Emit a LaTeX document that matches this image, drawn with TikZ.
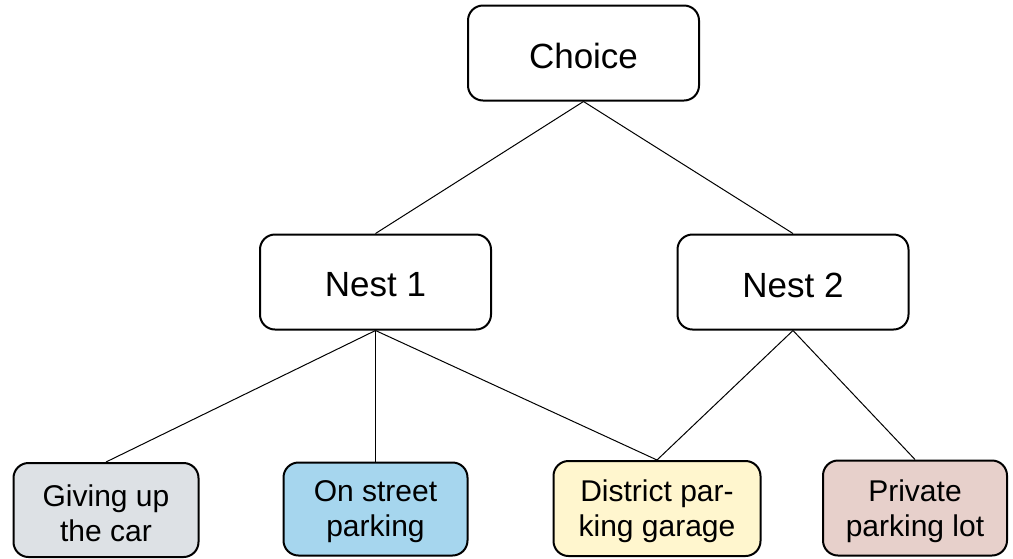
\documentclass[tikz,border=0pt]{standalone}
\usepackage{fontspec}
\setmainfont{Liberation Sans}
\definecolor{cgray}{RGB}{221,225,229}
\definecolor{cblue}{RGB}{166,214,238}
\definecolor{cyellow}{RGB}{255,246,206}
\definecolor{cpink}{RGB}{231,208,203}
\begin{document}
\begin{tikzpicture}[x=1pt,y=-1pt,
  box/.style={draw=black,line width=2pt,rounded corners=15pt,inner sep=0pt},
  topbox/.style={box,minimum width=231pt,minimum height=95pt},
  toptext/.style={label={[font=\fontsize{35}{40}\selectfont,text=black,yshift=-3pt]center:#1}},
  leaftext/.style={label={[font=\fontsize{30}{35}\selectfont,align=center,text=black,yshift=-3pt]center:#1}},
  link/.style={draw=black,line width=1pt}]
\useasboundingbox (0,0) rectangle (1013,558);
\node[topbox,toptext={Choice}] (choice) at (583.5,53) {};
\node[topbox,toptext={Nest 1}] (nest1) at (375.5,282) {};
\node[topbox,toptext={Nest 2}] (nest2) at (793,282) {};
\node[box,fill=cgray,minimum width=185pt,minimum height=94pt,leaftext={Giving up\\the car}] (give) at (106,510) {};
\node[box,fill=cblue,minimum width=184pt,minimum height=93pt,leaftext={On street\\parking}] (street) at (375.5,509) {};
\node[box,fill=cyellow,minimum width=207pt,minimum height=95pt,leaftext={District par-\\king garage}] (district) at (657,508.5) {};
\node[box,fill=cpink,minimum width=184pt,minimum height=95pt,leaftext={Private\\parking lot}] (private) at (915,508) {};
\draw[link] (choice.south) -- (nest1.north);
\draw[link] (choice.south) -- (nest2.north);
\draw[link] (nest1.south) -- (give.north);
\draw[link] (nest1.south) -- (street.north);
\draw[link] (nest1.south) -- (district.north);
\draw[link] (nest2.south) -- (district.north);
\draw[link] (nest2.south) -- (private.north);
\end{tikzpicture}
\end{document}
